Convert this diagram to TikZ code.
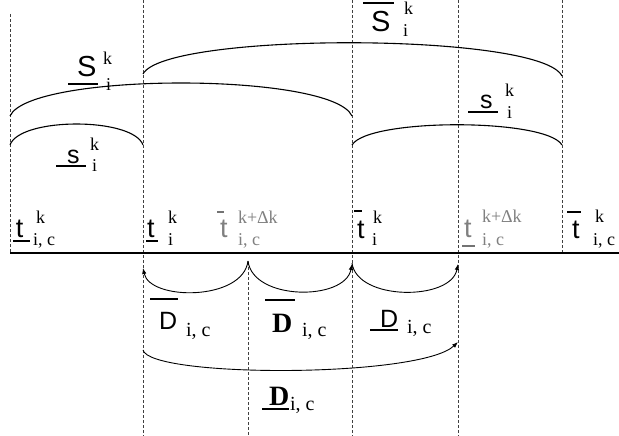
\documentclass[tikz,border=0pt]{standalone}
\usepackage{fontspec}
\setmainfont{Liberation Serif}
\setsansfont{Liberation Sans}
\usetikzlibrary{arrows.meta}
\begin{document}
\begin{tikzpicture}[x=1pt,y=-1pt,
  lbl/.style={inner sep=0pt, outer sep=0pt, anchor=base west},
  tl/.style={lbl, font=\sffamily\fontsize{27}{27}\selectfont},
  Sl/.style={lbl, font=\sffamily\fontsize{29}{29}\selectfont},
  sl/.style={lbl, font=\sffamily\fontsize{25}{25}\selectfont},
  Dl/.style={lbl, font=\sffamily\fontsize{25}{25}\selectfont},
  Db/.style={lbl, font=\rmfamily\bfseries\fontsize{28}{28}\selectfont},
  ix/.style={lbl, font=\rmfamily\fontsize{18}{18}\selectfont},
  dx/.style={lbl, font=\rmfamily\fontsize{20}{20}\selectfont},
  grey/.style={text=black!50},
  deco/.style={line width=1.3pt},
  greydeco/.style={line width=1.3pt, draw=black!55},
  guide/.style={black!75, line width=0.6pt, dash pattern=on 3pt off 2pt},
  arc/.style={line width=1.1pt},
  arr/.style={line width=0.9pt, -{Latex[length=6pt,width=4.5pt]}}
]
\useasboundingbox (0,0) rectangle (619,436);

% guide lines
\coordinate (g1t) at (10,14);   \coordinate (g1b) at (10,253);
\coordinate (g2t) at (143,0);   \coordinate (g2b) at (143,436);
\coordinate (g3t) at (248,262); \coordinate (g3b) at (248,436);
\coordinate (g4t) at (352,0);   \coordinate (g4b) at (352,436);
\coordinate (g5t) at (458,0);   \coordinate (g5b) at (458,436);
\coordinate (g6t) at (562,0);   \coordinate (g6b) at (562,253);
\foreach \i in {1,...,6} \draw[guide] (g\i t) -- (g\i b);

% time axis
\coordinate (axL) at (10,253); \coordinate (axR) at (619,253);
\draw[line width=1.5pt] (axL) -- (axR);

% upper arcs
\coordinate (Sa1) at (10,116);  \coordinate (Sa2) at (352,116);
\draw[arc] (Sa1) .. controls (30,72) and (332,72) .. (Sa2);
\coordinate (Sb1) at (143,74);  \coordinate (Sb2) at (562,76);
\draw[arc] (Sb1) .. controls (165,32) and (540,32) .. (Sb2);
\coordinate (sa1) at (10,145);  \coordinate (sa2) at (143,145);
\draw[arc] (sa1) .. controls (20,117) and (133,117) .. (sa2);
\coordinate (sb1) at (352,145); \coordinate (sb2) at (562,145);
\draw[arc] (sb1) .. controls (368,118) and (546,118) .. (sb2);

% lower arrows
\coordinate (p3) at (248,261);
\coordinate (p2) at (143,268);
\coordinate (p4a) at (352,264);
\coordinate (p4b) at (352,263);
\coordinate (p5) at (458,264);
\draw[arr] (p3) .. controls (243,301) and (150,301) .. (p2);
\draw[arr] (p3) .. controls (253,301) and (345,301) .. (p4a);
\draw[arr] (p4b) .. controls (357,301) and (451,301) .. (p5);
\coordinate (q1) at (143,350); \coordinate (q2) at (458,342);
\draw[arr] (q1) .. controls (150,378) and (420,378) .. (q2);

% ---- labels on axis ----
\node[tl] (t1) at (16,237) {t};
\draw[deco] (13,241) -- (30,241);
\node[ix] (t1k) at (36,223) {k};
\node[ix] (t1i) at (33,245) {i, c};

\node[tl] (t2) at (147,237) {t};
\draw[deco] (146,241) -- (158,241);
\node[ix] (t2k) at (168,223) {k};
\node[ix] (t2i) at (168,245) {i};

\node[tl,grey] (t3) at (220,237) {t};
\draw[greydeco] (217,212) -- (224,212);
\node[ix,grey] (t3k) at (238,223) {k+Δk};
\node[ix,grey] (t3i) at (238,245) {i, c};

\node[tl] (t4) at (357,238) {t};
\draw[deco] (354,211) -- (362,211);
\node[ix] (t4k) at (373,223) {k};
\node[ix] (t4i) at (372,245) {i};

\node[tl,grey] (t5) at (464,237) {t};
\draw[greydeco] (462,246) -- (475,246);
\node[ix,grey] (t5k) at (482,222) {k+Δk};
\node[ix,grey] (t5i) at (482,245) {i, c};

\node[tl] (t6) at (572,238) {t};
\draw[deco] (567,212) -- (581,212);
\node[ix] (t6k) at (595,222) {k};
\node[ix] (t6i) at (593,245) {i, c};

% ---- S labels ----
\node[Sl] (S1) at (77,77) {S};
\draw[deco] (68,84) -- (98,84);
\node[ix] (S1k) at (103,65) {k};
\node[ix] (S1i) at (106,91) {i};

\node[Sl] (S2) at (371,32) {S};
\draw[deco] (363,3) -- (394,3);
\node[ix] (S2k) at (404,15) {k};
\node[ix] (S2i) at (403,37) {i};

\node[sl] (s1) at (67,163) {s};
\draw[deco] (56,166) -- (86,166);
\node[ix] (s1k) at (90,150) {k};
\node[ix] (s1i) at (92,171) {i};

\node[sl] (s2) at (480,108) {s};
\draw[deco] (468,112) -- (498,112);
\node[ix] (s2k) at (505,97) {k};
\node[ix] (s2i) at (507,118) {i};

% ---- D labels ----
\node[Dl] (D1) at (159,329) {D};
\draw[deco] (150,299) -- (178,299);
\node[dx] (D1i) at (186,336) {i, c};

\node[Db] (D2) at (272,332) {D};
\draw[deco] (265,300) -- (295,300);
\node[dx] (D2i) at (302,336) {i, c};

\node[Dl] (D3) at (380,327) {D};
\draw[deco] (370,330) -- (398,330);
\node[dx] (D3i) at (407,333) {i, c};

\node[Db] (D4) at (269,405) {D};
\draw[deco] (262,409) -- (289,409);
\node[dx] (D4i) at (290,410) {i, c};
\end{tikzpicture}
\end{document}
